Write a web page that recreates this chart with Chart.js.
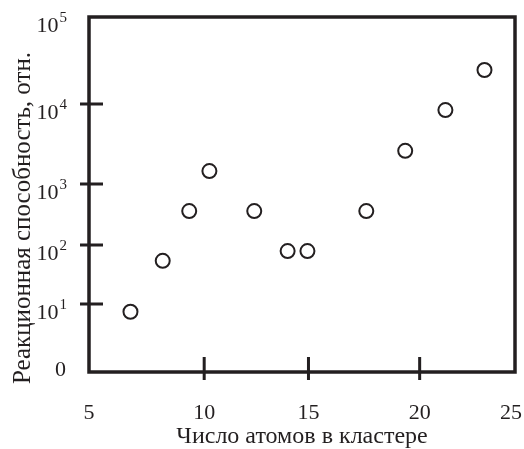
<!DOCTYPE html>
<html>
<head>
<meta charset="utf-8">
<script src="https://cdn.jsdelivr.net/npm/chart.js@4.4.1/dist/chart.umd.min.js"></script>
<style>
  html, body { margin: 0; padding: 0; background: #fff; }
  #wrap { width: 524px; height: 449px; }
</style>
</head>
<body>
<div id="wrap"><canvas id="chart"></canvas></div>
<script>
// cluster size vs relative reactivity
const atoms = [6.8, 8.2, 9.35, 10.25, 12.4, 14.0, 14.95, 17.6, 19.35, 21.35, 23.4];
const reactivity = [7.7, 54, 360, 1450, 360, 79, 79, 360, 2600, 8400, 24600];

const xTicks = [5, 10, 15, 20, 25];
const yTicks = [1, 10, 100, 1000, 10000, 100000];
const yTickBase = ["0", "10", "10", "10", "10", "10"];
const yTickExp = ["", "1", "2", "3", "4", "5"];

const xTitle = "Число атомов в кластере";
const yTitle = "Реакционная способность, отн.";

const INK = "#231f20";
const FONT = "'Liberation Serif', 'Times New Roman', serif";

// the original axes are hand drawn: tick spacing is not even,
// so each axis is piecewise between its labelled ticks
const pieces = {
  x: { stops: xTicks, fracs: [0, 0.2704, 0.5152, 0.7762, 1], log: false },
  y: { stops: yTicks, fracs: [0, 0.1915, 0.3577, 0.5296, 0.7549, 1], log: true }
};

class PiecewiseScale extends Chart.LinearScale {
  static id = "piecewise";
  static defaults = { ticks: { callback: v => v } };

  _cfg() { return pieces[this.id]; }
  _tr(v) { return this._cfg().log ? Math.log10(v) : v; }

  determineDataLimits() {
    const s = this._cfg().stops;
    this.min = s[0];
    this.max = s[s.length - 1];
  }
  buildTicks() {
    return this._cfg().stops.map(v => ({ value: v }));
  }
  getPixelForValue(value) {
    const { stops, fracs } = this._cfg();
    const s = stops.map(v => this._tr(v));
    const t = this._tr(value);
    let i = 0;
    while (i < s.length - 2 && t > s[i + 1]) i++;
    const d = fracs[i] + (t - s[i]) / (s[i + 1] - s[i]) * (fracs[i + 1] - fracs[i]);
    return this.getPixelForDecimal(d);
  }
  getValueForPixel(pixel) {
    const { stops, fracs, log } = this._cfg();
    const s = stops.map(v => this._tr(v));
    const d = this.getDecimalForPixel(pixel);
    let i = 0;
    while (i < fracs.length - 2 && d > fracs[i + 1]) i++;
    const t = s[i] + (d - fracs[i]) / (fracs[i + 1] - fracs[i]) * (s[i + 1] - s[i]);
    return log ? Math.pow(10, t) : t;
  }
}
Chart.register(PiecewiseScale);

const frame = {
  id: "frame",
  afterDraw(chart) {
    const { ctx, chartArea: a, scales, width } = chart;
    ctx.save();
    ctx.strokeStyle = INK;
    ctx.lineWidth = 3.5;
    ctx.strokeRect(a.left, a.top, a.right - a.left, a.bottom - a.top);

    // tick marks cross the axis lines
    ctx.lineWidth = 3;
    ctx.beginPath();
    scales.x.ticks.forEach((t, i) => {
      if (i === 0 || i === scales.x.ticks.length - 1) return;
      const px = scales.x.getPixelForTick(i);
      ctx.moveTo(px, a.bottom - 15);
      ctx.lineTo(px, a.bottom + 8);
    });
    scales.y.ticks.forEach((t, i) => {
      if (i === 0 || i === scales.y.ticks.length - 1) return;
      const py = scales.y.getPixelForTick(i);
      ctx.moveTo(a.left - 9, py);
      ctx.lineTo(a.left + 14, py);
    });
    ctx.stroke();

    ctx.fillStyle = INK;

    // x labels, the last one kept inside the canvas
    ctx.font = "22px " + FONT;
    ctx.textAlign = "center";
    ctx.textBaseline = "alphabetic";
    scales.x.ticks.forEach((t, i) => {
      const label = String(xTicks[i]);
      const w = ctx.measureText(label).width;
      const px = Math.min(scales.x.getPixelForTick(i), width - w / 2 - 2);
      ctx.fillText(label, px, a.bottom + 47);
    });

    // y labels with superscript powers
    const right = a.left - 24;
    scales.y.ticks.forEach((t, i) => {
      const py = scales.y.getPixelForTick(i);
      const exp = yTickExp[i];
      if (!exp) {
        ctx.font = "22px " + FONT;
        ctx.textAlign = "right";
        ctx.textBaseline = "middle";
        ctx.fillText(yTickBase[i], right + 1, py - 2);
        return;
      }
      ctx.textBaseline = "alphabetic";
      ctx.font = "15px " + FONT;
      const ew = ctx.measureText(exp).width;
      ctx.textAlign = "left";
      ctx.fillText(exp, right - ew + 2, py + 5);
      ctx.font = "22px " + FONT;
      ctx.textAlign = "right";
      ctx.fillText(yTickBase[i], right - ew + 1, py + 15);
    });

    // axis titles
    ctx.textAlign = "center";
    ctx.textBaseline = "middle";
    ctx.font = "24px " + FONT;
    ctx.fillText(xTitle, (a.left + a.right) / 2, 437);
    ctx.font = "25px " + FONT;
    ctx.translate(23, 218);
    ctx.rotate(-Math.PI / 2);
    ctx.fillText(yTitle, 0, 0);
    ctx.restore();
  }
};

new Chart(document.getElementById("chart"), {
  type: "scatter",
  data: {
    datasets: [{
      data: atoms.map((x, i) => ({ x, y: reactivity[i] })),
      pointRadius: 7,
      pointHoverRadius: 7,
      pointBorderWidth: 2,
      pointBorderColor: INK,
      pointBackgroundColor: "#fff"
    }]
  },
  options: {
    responsive: true,
    maintainAspectRatio: false,
    animation: false,
    layout: { padding: { top: 17, right: 6, left: 0, bottom: 0 } },
    plugins: { legend: { display: false }, tooltip: { enabled: false } },
    scales: {
      x: {
        type: "piecewise",
        afterFit: s => { s.height = 77; s.paddingLeft = 0; s.paddingRight = 0; },
        grid: { display: false, drawTicks: false },
        border: { display: false },
        ticks: { display: false }
      },
      y: {
        type: "piecewise",
        afterFit: s => { s.width = 89; },
        grid: { display: false, drawTicks: false },
        border: { display: false },
        ticks: { display: false }
      }
    }
  },
  plugins: [frame]
});
</script>
</body>
</html>
